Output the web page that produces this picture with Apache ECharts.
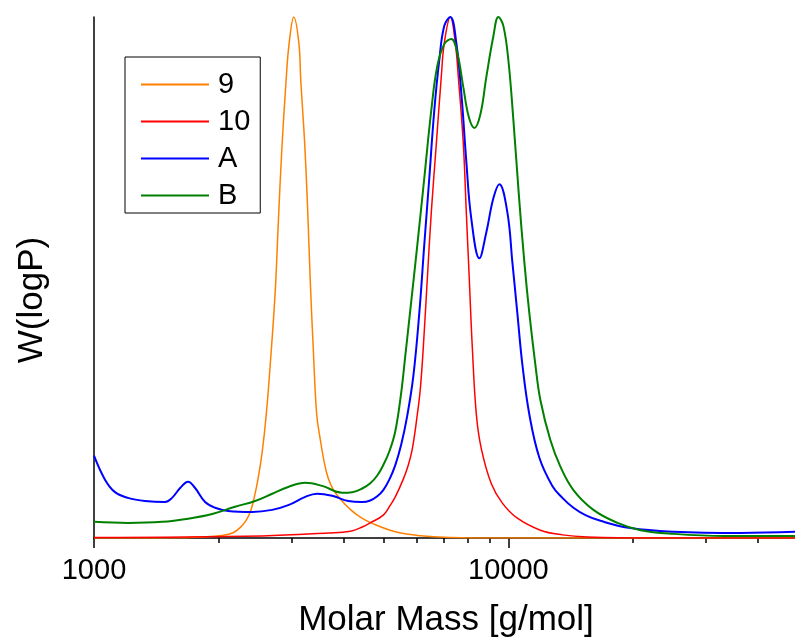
<!DOCTYPE html>
<html>
<head>
<meta charset="utf-8">
<script src="https://cdn.jsdelivr.net/npm/echarts@6/dist/echarts.min.js"></script>
<style>
  html, body { margin: 0; padding: 0; background: #fff; }
  #chart { width: 795px; height: 639px; }
</style>
</head>
<body>
<div id="chart"></div>
<script>
// Molar mass range of the log axis and minor tick marks
const massMin = 1000;
const massMax = 50000;
const majorTickLabels = [1000, 10000];
const minorTicks = [2000, 3000, 4000, 5000, 6000, 7000, 8000, 9000, 20000, 30000, 40000];

// Sample 9
const mass9 = [1000, 1614, 1834, 2038, 2166, 2252, 2316, 2383, 2435, 2490, 2546, 2603, 2661, 2736, 2783, 2837, 2909, 2958, 3035, 3122, 3154, 3225, 3280, 3325, 3381, 3447, 3515, 3595, 3674, 3779, 3928, 4154, 4391, 4694, 5335, 6029, 7244, 9566, 50000];
const w9 = [0, 0.0004, 0.002, 0.005, 0.010, 0.020, 0.031, 0.050, 0.077, 0.115, 0.165, 0.235, 0.33, 0.47, 0.60, 0.74, 0.88, 0.95, 1.0, 0.95, 0.88, 0.756, 0.625, 0.496, 0.365, 0.237, 0.19, 0.145, 0.115, 0.093, 0.075, 0.055, 0.040, 0.028, 0.012, 0.005, 0.001, 0, 0];

// Sample 10
const mass10 = [1000, 2546, 3674, 4154, 4440, 4642, 4990, 5188, 5335, 5578, 5735, 5864, 6029, 6129, 6232, 6372, 6516, 6700, 6888, 7004, 7244, 7447, 7572, 7786, 7916, 8049, 8185, 8370, 8606, 9097, 9672, 10513, 11947, 13501, 15515, 22030, 50000];
const w10 = [0.001, 0.004, 0.0096, 0.013, 0.021, 0.029, 0.044, 0.063, 0.079, 0.113, 0.140, 0.171, 0.237, 0.285, 0.365, 0.496, 0.625, 0.756, 0.885, 0.950, 1.0, 0.950, 0.885, 0.756, 0.625, 0.496, 0.365, 0.237, 0.171, 0.104, 0.067, 0.038, 0.015, 0.006, 0.002, 0, 0];

// Blend A
const massA = [1000, 1063, 1124, 1208, 1328, 1484, 1543, 1614, 1687, 1754, 1854, 1960, 2107, 2408, 2692, 2942, 3234, 3456, 3757, 4107, 4440, 4642, 4826, 4990, 5160, 5335, 5515, 5702, 5896, 6095, 6266, 6443, 6626, 6812, 7004, 7244, 7489, 7700, 7916, 8138, 8511, 8848, 9200, 9512, 9945, 10226, 10513, 10809, 11237, 11881, 12768, 13501, 14355, 15346, 16680, 19710, 25040, 36340, 50000];
const wA = [0.158, 0.112, 0.088, 0.077, 0.071, 0.069, 0.077, 0.096, 0.108, 0.096, 0.069, 0.058, 0.052, 0.050, 0.054, 0.063, 0.079, 0.085, 0.081, 0.071, 0.069, 0.072, 0.080, 0.092, 0.112, 0.14, 0.18, 0.235, 0.31, 0.431, 0.562, 0.690, 0.821, 0.917, 0.983, 1.0, 0.950, 0.854, 0.723, 0.613, 0.537, 0.587, 0.652, 0.679, 0.625, 0.529, 0.431, 0.333, 0.237, 0.154, 0.100, 0.077, 0.058, 0.044, 0.033, 0.019, 0.012, 0.0096, 0.012];

// Blend B
const massB = [1000, 1208, 1460, 1687, 1928, 2190, 2448, 2692, 2942, 3234, 3554, 3972, 4200, 4440, 4642, 4826, 4990, 5160, 5335, 5515, 5640, 5767, 6029, 6266, 6516, 6737, 7004, 7284, 7530, 7786, 8027, 8277, 8558, 8848, 9200, 9459, 9725, 10000, 10283, 10601, 10930, 11237, 11618, 11947, 12627, 13352, 14355, 16042, 18340, 20840, 25040, 33050, 50000];
const wB = [0.031, 0.029, 0.031, 0.037, 0.046, 0.060, 0.071, 0.085, 0.098, 0.106, 0.100, 0.087, 0.088, 0.095, 0.105, 0.12, 0.14, 0.166, 0.205, 0.28, 0.35, 0.42, 0.562, 0.690, 0.821, 0.906, 0.948, 0.958, 0.931, 0.865, 0.808, 0.787, 0.813, 0.885, 0.963, 1.0, 0.983, 0.917, 0.802, 0.658, 0.529, 0.431, 0.333, 0.265, 0.188, 0.137, 0.092, 0.054, 0.029, 0.015, 0.008, 0.004, 0.004];

const seriesNames = ['9', '10', 'A', 'B'];
const seriesColors = ['#FF8000', '#FF0000', '#0000FF', '#008000'];
const seriesWidths = [1.5, 1.5, 2, 2];
const seriesMass = [mass9, mass10, massA, massB];
const seriesW = [w9, w10, wA, wB];

const FONT = 'Liberation Sans, Arial, Helvetica, sans-serif';

const chart = echarts.init(document.getElementById('chart'), null, { renderer: 'canvas' });

const series = seriesNames.map((name, i) => ({
  name: name,
  type: 'line',
  xAxisIndex: 0,
  yAxisIndex: 0,
  data: seriesMass[i].map((m, k) => [m, seriesW[i][k]]),
  smooth: 0.4,
  symbol: 'none',
  showSymbol: false,
  color: seriesColors[i],
  lineStyle: { color: seriesColors[i], width: seriesWidths[i] },
  emphasis: { disabled: true },
  z: 3 + i
}));

const option = {
  animation: false,
  backgroundColor: '#ffffff',
  textStyle: { fontFamily: FONT },
  grid: { left: 94, right: -3, top: 17, bottom: 101, containLabel: false, outerBoundsMode: 'none' },
  legend: {
    data: seriesNames,
    orient: 'vertical',
    left: 125,
    top: 57,
    icon: 'rect',
    itemWidth: 68,
    itemHeight: 2,
    itemGap: 8,
    padding: [13, 10, 3, 16],
    borderColor: '#000',
    borderWidth: 1,
    borderRadius: 0,
    backgroundColor: '#fff',
    selectedMode: false,
    textStyle: { fontFamily: FONT, fontSize: 29, color: '#000', lineHeight: 28, padding: [0, 0, 0, 4] }
  },
  xAxis: [
    {
      type: 'log',
      logBase: 10,
      min: massMin,
      max: massMax,
      position: 'bottom',
      name: 'Molar Mass [g/mol]',
      nameLocation: 'middle',
      nameGap: 65,
      nameTextStyle: { fontFamily: FONT, fontSize: 35, color: '#000' },
      axisLine: { show: true, onZero: false, lineStyle: { color: '#000', width: 1.5 } },
      axisTick: { show: true, inside: false, length: 10, lineStyle: { color: '#000', width: 1.5 } },
      axisLabel: {
        show: true,
        fontFamily: FONT,
        fontSize: 29,
        color: '#000',
        margin: 18,
        showMaxLabel: false,
        formatter: v => (majorTickLabels.indexOf(Math.round(v)) >= 0 ? String(Math.round(v)) : '')
      },
      splitLine: { show: false },
      minorTick: { show: false }
    },
    {
      // minor decade ticks, placed in log10 space over the same range
      type: 'value',
      min: Math.log10(massMin),
      max: Math.log10(massMax),
      position: 'bottom',
      axisLine: { show: false },
      axisTick: {
        show: true,
        inside: false,
        length: 5,
        customValues: minorTicks.map(Math.log10),
        lineStyle: { color: '#000', width: 1.5 }
      },
      axisLabel: { show: false },
      splitLine: { show: false }
    }
  ],
  yAxis: {
    type: 'value',
    min: 0,
    max: 1,
    name: 'W(logP)',
    nameLocation: 'middle',
    nameGap: 44,
    nameTextStyle: { fontFamily: FONT, fontSize: 35, color: '#000', padding: [0, 45, 0, 0] },
    axisLine: { show: true, onZero: false, lineStyle: { color: '#000', width: 1.5 } },
    axisTick: { show: false },
    axisLabel: { show: false },
    splitLine: { show: false }
  },
  series: series
};

chart.setOption(option);
</script>
</body>
</html>
